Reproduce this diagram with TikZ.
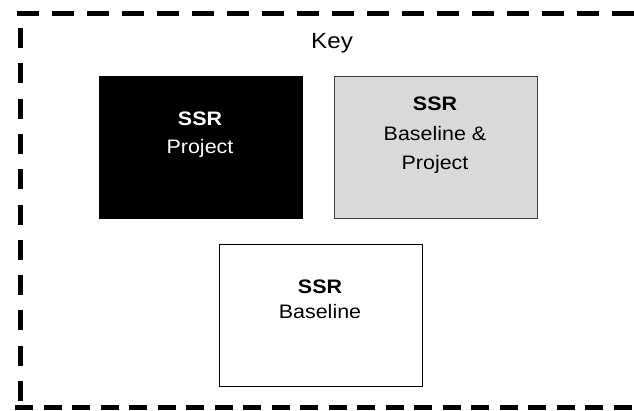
\documentclass[tikz,border=0pt]{standalone}
\usepackage{fontspec}
\setmainfont[FakeStretch=1.1]{Liberation Sans}
\usepackage{tikz}
\definecolor{keygray}{HTML}{D9D9D9}
\definecolor{keyedge}{HTML}{404040}
\tikzset{
  keybox/.style={draw, line width=1.3bp, minimum width=203bp, minimum height=142bp, inner sep=0pt, anchor=north west},
  lbl/.style={anchor=base, inner sep=0pt, font=\fontsize{19.5bp}{23bp}\selectfont},
  ssr/.style={lbl, font=\fontsize{19.5bp}{23bp}\selectfont\bfseries},
  frame/.style={line width=5bp, line cap=butt},
}

\begin{document}
\begin{tikzpicture}[x=1bp,y=-1bp]
      \useasboundingbox (0,0) rectangle (634,410);
      % dashed frame, open to the right
      \draw[frame, dash pattern=on 22bp off 13bp] (17,13) -- (634,13);
      \draw[frame, dash pattern=on 20bp off 15.3bp] (20,28) -- (20,404);
      \draw[frame, dash pattern=on 18bp off 10.5bp] (15,407.5) -- (634,407.5);
      \node[anchor=base, inner sep=0pt, font=\fontsize{22bp}{26bp}\selectfont] (key) at (332,48) {Key};
      % the three boxes
      \node[keybox, fill=black] (proj) at (98.5,75.5) {};
      \node[keybox, fill=keygray, draw=keyedge] (both) at (333.5,75.5) {};
      \node[keybox, fill=white] (base) at (218.5,243.5) {};
      \node[ssr, text=white] (projA) at (200,125) {SSR};
      \node[lbl, text=white] (projB) at (200,153) {Project};
      \node[ssr] (bothA) at (435,110) {SSR};
      \node[lbl] (bothB) at (435,140) {Baseline \&};
      \node[lbl] (bothC) at (435,169) {Project};
      \node[ssr] (baseA) at (320,293) {SSR};
      \node[lbl] (baseB) at (320,318) {Baseline};
    \end{tikzpicture}
\end{document}
